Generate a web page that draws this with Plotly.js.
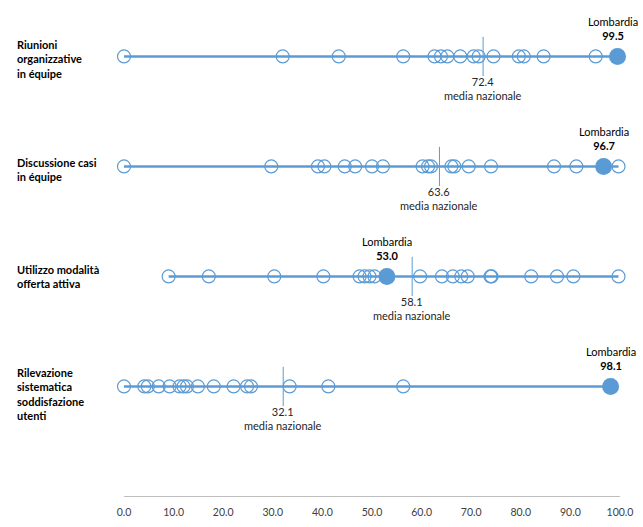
<!DOCTYPE html>
<html>
<head>
<meta charset="utf-8">
<script src="https://cdn.plot.ly/plotly-3.0.1.min.js"></script>
<style>html,body{margin:0;padding:0;background:#fff;}#chart{width:643px;height:527px;}</style>
</head>
<body>
<div id="chart"></div>
<script>
// Categories (top to bottom)
const categories = [
  "Riunioni<br>organizzative<br>in équipe",
  "Discussione casi<br>in équipe",
  "Utilizzo modalità<br>offerta attiva",
  "Rilevazione<br>sistematica<br>soddisfazione<br>utenti"
];
// Values of the other regions, per category
const regioniRiunioni = [0, 32.0, 43.3, 56.3, 62.6, 63.9, 65.2, 67.8, 70.5, 71.5, 74.5, 79.6, 80.6, 84.6, 95.1];
const regioniDiscussione = [0, 29.7, 39.1, 40.4, 44.5, 46.6, 50.0, 52.2, 60.2, 61.3, 61.9, 66.0, 66.6, 69.5, 74.0, 86.7, 91.2, 99.7];
const regioniOfferta = [9.0, 17.1, 30.3, 40.2, 47.5, 48.5, 49.5, 50.5, 59.7, 64.1, 66.3, 68.0, 69.3, 73.9, 74.1, 82.1, 87.3, 90.6, 99.7];
const regioniSoddisfazione = [0, 4.1, 4.8, 7.0, 9.2, 11.2, 12.0, 12.7, 14.9, 18.1, 22.1, 24.8, 25.6, 33.4, 41.2, 56.3];
const regioni = [regioniRiunioni, regioniDiscussione, regioniOfferta, regioniSoddisfazione];
// Lombardia values
const lombardia = [99.5, 96.7, 53.0, 98.1];
// National averages
const mediaNazionale = [72.4, 63.6, 58.1, 32.1];
// Tick values
const tickValues = [0, 10, 20, 30, 40, 50, 60, 70, 80, 90, 100];

const blue = "#5B9BD5";
const rowY = [3, 2, 1, 0];
const labelShift = [-3, -3, 0, -8];
const lombXShift = [-5, 0, 0, 0];

const traces = [];
const annotations = [];
categories.forEach((cat, i) => {
  const y = rowY[i];
  const all = regioni[i].concat([lombardia[i]]);
  const mn = Math.min(...all), mx = Math.max(...all);
  traces.push({x: [mn, mx], y: [y, y], mode: "lines", line: {color: blue, width: 2.5}, hoverinfo: "skip", cliponaxis: false});
  traces.push({x: [mediaNazionale[i]], y: [y], mode: "markers", cliponaxis: false,
    marker: {symbol: "line-ns-open", size: 28, color: blue, line: {color: blue, width: 1}}, hoverinfo: "skip"});
  traces.push({x: regioni[i], y: regioni[i].map(() => y), mode: "markers", cliponaxis: false,
    marker: {symbol: "circle-open", size: 13, color: blue, line: {color: blue, width: 1.2}}, hoverinfo: "skip"});
  traces.push({x: [lombardia[i]], y: [y], mode: "markers", cliponaxis: false,
    marker: {symbol: "circle", size: 17, color: blue}, hoverinfo: "skip"});
  annotations.push({xref: "paper", yref: "y", x: -0.2198, y: y, xanchor: "left", yanchor: "middle",
    yshift: labelShift[i], align: "left", showarrow: false, text: "<b>" + cat + "</b>",
    font: {family: "Lato, sans-serif", size: 11, color: "#000"}});
  annotations.push({xref: "x", yref: "y", x: lombardia[i], y: y, xanchor: "center", yanchor: "bottom",
    yshift: 12, xshift: lombXShift[i], showarrow: false,
    text: "Lombardia<br><b>" + lombardia[i].toFixed(1) + "</b>",
    font: {family: "Lato, sans-serif", size: 11, color: "#000"}});
  annotations.push({xref: "x", yref: "y", x: mediaNazionale[i], y: y, xanchor: "center", yanchor: "top",
    yshift: -17, showarrow: false,
    text: mediaNazionale[i].toFixed(1) + "<br>media nazionale",
    font: {family: "Lato, sans-serif", size: 11, color: "#262626"}});
});

const layout = {
  width: 643, height: 527,
  margin: {l: 124, r: 23, t: 10, b: 31},
  showlegend: false,
  paper_bgcolor: "#fff", plot_bgcolor: "#fff",
  xaxis: {range: [0, 100], tickvals: tickValues, ticktext: tickValues.map(v => v.toFixed(1)),
    showgrid: false, zeroline: false, showline: true, linecolor: "#BFBFBF", linewidth: 1,
    ticks: "", ticklabelstandoff: 6, tickfont: {family: "Lato, sans-serif", size: 10.5, color: "#404040"}},
  yaxis: {range: [-0.996, 3.422], showgrid: false, zeroline: false, showticklabels: false, showline: false},
  annotations: annotations
};
Plotly.newPlot("chart", traces, layout, {displayModeBar: false, staticPlot: true});
</script>
</body>
</html>
